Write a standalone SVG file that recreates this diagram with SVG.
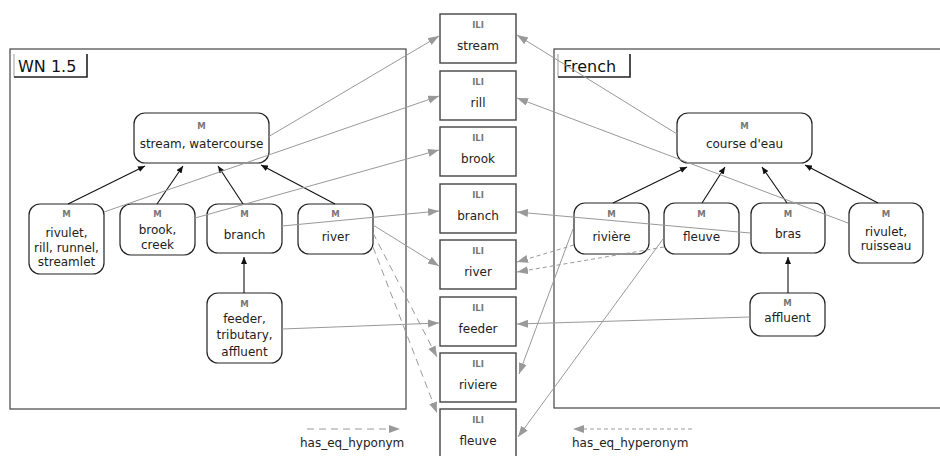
<svg xmlns="http://www.w3.org/2000/svg" width="940" height="456" viewBox="0 0 940 456">
  <style>
    .frame { fill: none; stroke: #444; stroke-width: 1.2; }
    .tab { fill: none; stroke: #222; stroke-width: 1.6; }
    .tabthin { fill: none; stroke: #888; stroke-width: 0.8; }
    .tabtxt { font-family: "DejaVu Sans", sans-serif; font-size: 16px; fill: #111; }
    .m { fill: #fff; stroke: #222; stroke-width: 1.2; }
    .ili { fill: #fff; stroke: #444; stroke-width: 1.4; }
    .tag { font-family: "DejaVu Sans", sans-serif; font-size: 8.5px; font-weight: bold; fill: #777; text-anchor: middle; }
    .lbl { font-family: "DejaVu Sans", sans-serif; font-size: 12px; fill: #222; text-anchor: middle; }
    .hyp { fill: none; stroke: #111; stroke-width: 1.1; marker-end: url(#blk); }
    .eq { fill: none; stroke: #999; stroke-width: 1; marker-end: url(#gry); }
    .hypo { fill: none; stroke: #999; stroke-width: 1; stroke-dasharray: 7 5; marker-end: url(#gry); }
    .hyper { fill: none; stroke: #999; stroke-width: 1; stroke-dasharray: 4 3; marker-end: url(#gry); }
    .legend { font-family: "DejaVu Sans", sans-serif; font-size: 12px; fill: #222; }
  </style>
  <defs>
    <marker id="blk" markerUnits="userSpaceOnUse" markerWidth="8" markerHeight="6" refX="7" refY="3" orient="auto">
      <path d="M0,0 L7,3 L0,6 z" fill="#111"/>
    </marker>
    <marker id="gry" markerUnits="userSpaceOnUse" markerWidth="12" markerHeight="9" refX="11" refY="4" orient="auto">
      <path d="M0,0 L11,4 L0,8 z" fill="#999"/>
    </marker>
  </defs>

  <rect width="940" height="456" fill="#fff"/>

  <!-- language frames -->
  <g id="frame-wn">
    <rect class="frame" x="10" y="49" width="396" height="360"/>
    <path class="tabthin" d="M14,54 V77"/>
    <path class="tab" d="M87,54 V77 H14"/>
    <text class="tabtxt" x="18" y="72">WN 1.5</text>
  </g>
  <g id="frame-fr">
    <rect class="frame" x="554" y="49" width="400" height="359"/>
    <path class="tabthin" d="M558,54 V77"/>
    <path class="tab" d="M630,54 V77 H558"/>
    <text class="tabtxt" x="563" y="72">French</text>
  </g>

  <!-- WordNet 1.5 meanings -->
  <g id="wn-stream-watercourse">
    <rect class="m" x="134" y="113" width="135" height="50" rx="11"/>
    <text class="tag" x="201.5" y="129">M</text>
    <text class="lbl" x="201.5" y="148">stream, watercourse</text>
  </g>
  <g id="wn-rivulet">
    <rect class="m" x="29" y="204" width="75" height="70" rx="11"/>
    <text class="tag" x="66.5" y="217">M</text>
    <text class="lbl" x="66.5" y="237">rivulet,</text>
    <text class="lbl" x="66.5" y="252">rill, runnel,</text>
    <text class="lbl" x="66.5" y="266">streamlet</text>
  </g>
  <g id="wn-brook">
    <rect class="m" x="120" y="204" width="75" height="51" rx="11"/>
    <text class="tag" x="157.5" y="217">M</text>
    <text class="lbl" x="157.5" y="234">brook,</text>
    <text class="lbl" x="157.5" y="249">creek</text>
  </g>
  <g id="wn-branch">
    <rect class="m" x="207" y="204" width="75" height="49" rx="11"/>
    <text class="tag" x="244.5" y="217">M</text>
    <text class="lbl" x="244.5" y="239">branch</text>
  </g>
  <g id="wn-river">
    <rect class="m" x="298" y="204" width="75" height="50" rx="11"/>
    <text class="tag" x="335.5" y="217">M</text>
    <text class="lbl" x="335.5" y="241">river</text>
  </g>
  <g id="wn-feeder">
    <rect class="m" x="207" y="293" width="75" height="70" rx="11"/>
    <text class="tag" x="244.5" y="307">M</text>
    <text class="lbl" x="244.5" y="323">feeder,</text>
    <text class="lbl" x="244.5" y="339">tributary,</text>
    <text class="lbl" x="244.5" y="356">affluent</text>
  </g>

  <!-- French meanings -->
  <g id="fr-course-deau">
    <rect class="m" x="677" y="113" width="135" height="50" rx="11"/>
    <text class="tag" x="744.5" y="129">M</text>
    <text class="lbl" x="744.5" y="148">course d'eau</text>
  </g>
  <g id="fr-riviere">
    <rect class="m" x="574" y="203" width="75" height="51" rx="11"/>
    <text class="tag" x="611.5" y="217">M</text>
    <text class="lbl" x="611.5" y="241">rivière</text>
  </g>
  <g id="fr-fleuve">
    <rect class="m" x="664" y="203" width="75" height="51" rx="11"/>
    <text class="tag" x="701.5" y="217">M</text>
    <text class="lbl" x="701.5" y="241">fleuve</text>
  </g>
  <g id="fr-bras">
    <rect class="m" x="751" y="203" width="74" height="50" rx="11"/>
    <text class="tag" x="788" y="217">M</text>
    <text class="lbl" x="788" y="238">bras</text>
  </g>
  <g id="fr-rivulet">
    <rect class="m" x="849" y="203" width="74" height="60" rx="11"/>
    <text class="tag" x="886" y="217">M</text>
    <text class="lbl" x="886" y="236">rivulet,</text>
    <text class="lbl" x="886" y="250">ruisseau</text>
  </g>
  <g id="fr-affluent">
    <rect class="m" x="750" y="293" width="75" height="43" rx="11"/>
    <text class="tag" x="787.5" y="306">M</text>
    <text class="lbl" x="787.5" y="322">affluent</text>
  </g>

  <!-- Inter-Lingual-Index records -->
  <g id="ili-stream">
    <rect class="ili" x="440" y="14" width="76" height="49"/>
    <text class="tag" x="478" y="28">ILI</text>
    <text class="lbl" x="478" y="50">stream</text>
  </g>
  <g id="ili-rill">
    <rect class="ili" x="440" y="71" width="76" height="49"/>
    <text class="tag" x="478" y="85">ILI</text>
    <text class="lbl" x="478" y="107">rill</text>
  </g>
  <g id="ili-brook">
    <rect class="ili" x="440" y="127" width="76" height="49"/>
    <text class="tag" x="478" y="141">ILI</text>
    <text class="lbl" x="478" y="163">brook</text>
  </g>
  <g id="ili-branch">
    <rect class="ili" x="440" y="184" width="76" height="49"/>
    <text class="tag" x="478" y="198">ILI</text>
    <text class="lbl" x="478" y="220">branch</text>
  </g>
  <g id="ili-river">
    <rect class="ili" x="440" y="240" width="76" height="49"/>
    <text class="tag" x="478" y="254">ILI</text>
    <text class="lbl" x="478" y="276">river</text>
  </g>
  <g id="ili-feeder">
    <rect class="ili" x="440" y="297" width="76" height="49"/>
    <text class="tag" x="478" y="311">ILI</text>
    <text class="lbl" x="478" y="333">feeder</text>
  </g>
  <g id="ili-riviere">
    <rect class="ili" x="440" y="353" width="76" height="49"/>
    <text class="tag" x="478" y="367">ILI</text>
    <text class="lbl" x="478" y="389">riviere</text>
  </g>
  <g id="ili-fleuve">
    <rect class="ili" x="440" y="409" width="76" height="49"/>
    <text class="tag" x="478" y="423">ILI</text>
    <text class="lbl" x="478" y="445">fleuve</text>
  </g>

  <!-- connectors -->
  <g id="connectors">
    <!-- hyperonym links inside each wordnet -->
    <path class="hyp" d="M68,204 L145,166"/>
    <path class="hyp" d="M157,204 L183,166"/>
    <path class="hyp" d="M243,204 L218,166"/>
    <path class="hyp" d="M335,204 L261,165"/>
    <path class="hyp" d="M244,293 L244,257"/>
    <path class="hyp" d="M613,203 L687,167"/>
    <path class="hyp" d="M702,203 L725,167"/>
    <path class="hyp" d="M787,203 L762,167"/>
    <path class="hyp" d="M878,203 L805,165"/>
    <path class="hyp" d="M788,293 L788,257"/>

    <!-- eq_synonym links to the ILI -->
    <path class="eq" d="M268,137 L439,36"/>
    <path class="eq" d="M104,212 L439,96"/>
    <path class="eq" d="M195,218 L439,150"/>
    <path class="eq" d="M282,226 L439,211"/>
    <path class="eq" d="M373,225 L439,266"/>
    <path class="eq" d="M282,329 L439,323"/>
    <path class="eq" d="M677,134 L517,35"/>
    <path class="eq" d="M848,223 L517,98"/>
    <path class="eq" d="M750,233 L517,212"/>
    <path class="eq" d="M750,317 L517,324"/>
    <path class="eq" d="M573,229 L519,374"/>
    <path class="eq" d="M663,239 L518,437"/>

    <!-- eq_hyponym / eq_hyperonym links -->
    <path class="hypo" d="M373,233 L437,357"/>
    <path class="hypo" d="M373,247 L437,413"/>
    <path class="hyper" d="M574,245 L517,262"/>
    <path class="hyper" d="M664,247 L517,272"/>
  </g>

  <!-- legend -->
  <g id="legend">
    <path class="hypo" d="M307,429 L400,429"/>
    <text class="legend" x="300" y="447">has_eq_hyponym</text>
    <path class="hyper" d="M692,429 L573,429"/>
    <text class="legend" x="572" y="447">has_eq_hyperonym</text>
  </g>
</svg>
